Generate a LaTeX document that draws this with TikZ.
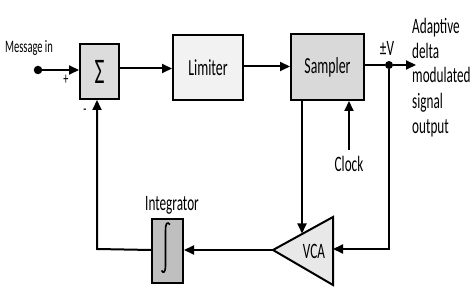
\documentclass[tikz,border=0pt]{standalone}
\usepackage{fontspec}
\setmainfont{Carlito}[FakeStretch=0.6]
\usetikzlibrary{arrows.meta,calc}
\definecolor{sigfill}{HTML}{DCDCDC}
\definecolor{limfill}{HTML}{F2F2F2}
\definecolor{samfill}{HTML}{D9D9D9}
\definecolor{intfill}{HTML}{BFBFBF}
\definecolor{vcafill}{HTML}{E8E8E8}
\begin{document}
\begin{tikzpicture}[x=1pt,y=-1pt,
  blk/.style={draw=black,line width=2pt,inner sep=0pt,font=\fontsize{23}{26}\selectfont},
  conn/.style={line width=2pt},
  arr/.style={conn,-{Triangle[length=10pt,width=9pt]}},
  lbl/.style={inner sep=0pt,font=\fontsize{22}{25}\selectfont},
  outl/.style={lbl,anchor=west,text height=15pt,text depth=5pt},
  dotn/.style={circle,fill=black,inner sep=0pt,minimum size=8pt}]
\useasboundingbox (0,0) rectangle (474,296);
% blocks
\node[blk,fill=sigfill,minimum width=39pt,minimum height=55pt] (sigma) at (99.5,71.5) {\fontsize{36}{36}\selectfont Σ};
\node[blk,fill=limfill,minimum width=70pt,minimum height=65pt] (lim) at (208,68) {Limiter};
\node[blk,fill=samfill,minimum width=73pt,minimum height=66pt] (sam) at (327.5,67) {Sampler};
\node[blk,fill=intfill,minimum width=31pt,minimum height=64pt] (integ) at (167.5,251) {};
\draw[line width=1.6pt] (170,224.5) .. controls (167,221) and (165.5,224) .. (165.5,230)
  -- (165.5,266) .. controls (165.5,272) and (163.5,274) .. (161.5,270.5);
% VCA triangle
\coordinate (vtip) at (273,250);
\coordinate (vtop) at (333,217);
\coordinate (vbot) at (333,285);
\draw[line width=2pt,fill=vcafill,line join=miter] (vtip) -- (vtop) -- (vbot) -- cycle;
\node[lbl] (vca) at (314,251) {VCA};
\coordinate (vin) at (333,249);
\coordinate (vtopin) at (302,233.5);
% dots and labels
\node[dotn,minimum width=8.5pt] (msg) at (38,70) {};
\node[lbl,font=\fontsize{17.5}{20}\selectfont] (msgl) at (29,48) {Message in};
\node[lbl,font=\fontsize{17}{17}\selectfont] (plus) at (66,80) {+};
\node[lbl,font=\fontsize{17}{17}\selectfont] (minus) at (85,112) {-};
\node[dotn] (odot) at (389,65) {};
\coordinate (oend) at (416,65);
\node[lbl] (pmv) at (387,48) {±V};
\node[outl] (out1) at (412,29) {Adaptive};
\node[outl] (out2) at (412,54) {delta};
\node[outl] (out3) at (412,78) {modulated};
\node[outl] (out4) at (412,104) {signal};
\node[outl] (out5) at (412,129) {output};
\node[lbl] (clock) at (349,164) {Clock};
\node[lbl] (intl) at (172,205) {Integrator};
\coordinate (fb) at (97,249);
\coordinate (dn) at (389,249);
% connectors
\draw[arr] (msg) -- (msg -| sigma.west);
\draw[arr] (sigma.east |- 0,68.5) -- (lim.west |- 0,68.5);
\draw[arr] (lim.east |- 0,66.5) -- (sam.west |- 0,66.5);
\draw[conn] (sam.east |- odot) -- (odot);
\draw[arr] (odot) -- (oend);
\draw[arr] (clock.north |- 0,150) -- (clock.north |- sam.south);
\draw[arr] (302,100) -- (vtopin);
\draw[arr] (odot) -- (dn) -- (vin);
\draw[arr] (vtip) -- (vtip -| integ.east);
\draw[arr] (integ.west |- vtip) -- (fb) -- (fb |- sigma.south);
\end{tikzpicture}
\end{document}
